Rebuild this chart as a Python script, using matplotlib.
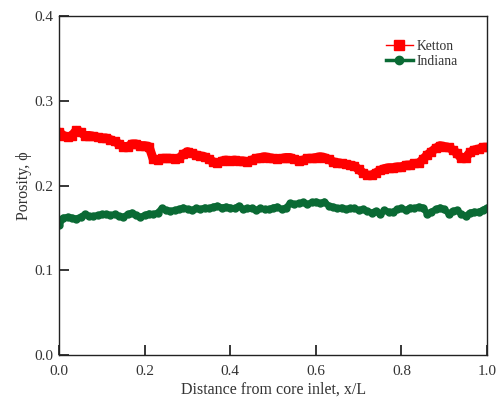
import matplotlib

matplotlib.use("Agg")

import matplotlib.pyplot as plt

plt.rcParams["font.family"] = ["Liberation Serif", "DejaVu Serif"]

x_over_l = [i / 100 for i in range(101)]

ketton = [
    0.263, 0.259, 0.257, 0.259, 0.265, 0.263, 0.259, 0.259, 0.258, 0.257,
    0.256, 0.256, 0.254, 0.252, 0.249, 0.246, 0.246, 0.249, 0.249, 0.247,
    0.247, 0.246, 0.231, 0.230, 0.232, 0.232, 0.232, 0.231, 0.232, 0.237,
    0.240, 0.238, 0.236, 0.235, 0.234, 0.231, 0.228, 0.226, 0.229, 0.230,
    0.229, 0.230, 0.229, 0.229, 0.228, 0.230, 0.232, 0.233, 0.234, 0.233,
    0.232, 0.231, 0.232, 0.233, 0.233, 0.231, 0.229, 0.230, 0.232, 0.232,
    0.233, 0.234, 0.233, 0.231, 0.228, 0.227, 0.226, 0.225, 0.224, 0.223,
    0.219, 0.215, 0.212, 0.212, 0.215, 0.218, 0.220, 0.221, 0.221, 0.222,
    0.222, 0.224, 0.224, 0.226, 0.226, 0.231, 0.236, 0.240, 0.244, 0.247,
    0.246, 0.245, 0.242, 0.238, 0.232, 0.233, 0.239, 0.242, 0.243, 0.245,
    0.245,
]

indiana = [
    0.153, 0.162, 0.163, 0.162, 0.161, 0.163, 0.166, 0.164, 0.164, 0.165,
    0.166, 0.166, 0.165, 0.166, 0.164, 0.163, 0.166, 0.168, 0.165, 0.163,
    0.165, 0.167, 0.166, 0.168, 0.173, 0.171, 0.170, 0.171, 0.172, 0.174,
    0.172, 0.171, 0.173, 0.172, 0.174, 0.173, 0.175, 0.176, 0.174, 0.175,
    0.174, 0.173, 0.176, 0.172, 0.173, 0.173, 0.171, 0.173, 0.172, 0.172,
    0.174, 0.175, 0.172, 0.174, 0.179, 0.178, 0.179, 0.180, 0.178, 0.180,
    0.181, 0.179, 0.181, 0.176, 0.175, 0.173, 0.174, 0.172, 0.173, 0.173,
    0.171, 0.172, 0.170, 0.168, 0.170, 0.166, 0.171, 0.169, 0.169, 0.172,
    0.173, 0.171, 0.174, 0.173, 0.175, 0.174, 0.167, 0.169, 0.172, 0.174,
    0.172, 0.167, 0.170, 0.171, 0.166, 0.164, 0.168, 0.169, 0.169, 0.171,
    0.174,
]

red = "#FF0000"
green = "#0A6A34"

fig = plt.figure(figsize=(4.97, 3.99), dpi=100)
ax = fig.add_axes([0.119, 0.110, 0.861, 0.850])

ax.plot(x_over_l, ketton, color=red, linewidth=6.5, marker="s", markersize=6,
        label="Ketton", solid_capstyle="round", solid_joinstyle="round")
ax.plot(x_over_l, indiana, color=green, linewidth=4.5, marker="o", markersize=5,
        label="Indiana", solid_capstyle="round", solid_joinstyle="round")

ax.set_xlim(0, 1.0)
ax.set_ylim(0, 0.4)
ax.set_xticks([0.0, 0.2, 0.4, 0.6, 0.8, 1.0])
ax.set_yticks([0.0, 0.1, 0.2, 0.3, 0.4])
ax.xaxis.set_major_formatter(matplotlib.ticker.FormatStrFormatter("%.1f"))
ax.yaxis.set_major_formatter(matplotlib.ticker.FormatStrFormatter("%.1f"))
ax.tick_params(direction="in", length=7, width=1.1, labelsize=11,
               labelcolor="#333333", pad=4)
ax.tick_params(axis="x", pad=7)
for side in ["left", "bottom", "top", "right"]:
    ax.spines[side].set_color("#222222")
    ax.spines[side].set_linewidth(1.0)

ax.set_xlabel("Distance from core inlet, x/L", fontsize=11.5, color="#333333", labelpad=3)
ax.set_ylabel("Porosity, ϕ", fontsize=11.5, color="#333333", labelpad=2)

handles = [
    plt.Line2D([], [], color=red, linewidth=1, marker="s", markersize=7),
    plt.Line2D([], [], color=green, linewidth=2.5, marker="o", markersize=6),
]
ax.legend(handles, ["Ketton", "Indiana"], loc="upper left", bbox_to_anchor=(0.75, 0.945),
          frameon=False, fontsize=9.8, handlelength=2.0, handletextpad=0.3,
          labelspacing=0.15, labelcolor="#333333", borderaxespad=0)

fig.savefig("out.png", dpi=100)
